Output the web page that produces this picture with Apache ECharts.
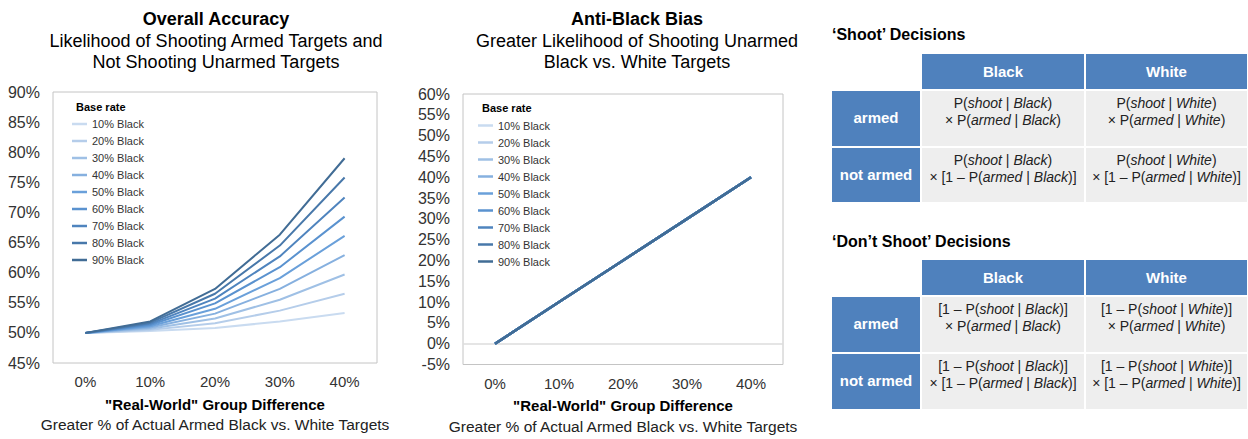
<!DOCTYPE html>
<html>
<head>
<meta charset="utf-8">
<script src="https://cdn.jsdelivr.net/npm/echarts@6/dist/echarts.min.js"></script>
<style>
html,body{margin:0;padding:0;background:#fff;}
#c{width:1248px;height:439px;}
</style>
</head>
<body>
<div id="c"></div>
<script>
// ---------- data ----------
const categories = ['0%', '10%', '20%', '30%', '40%'];
const baseRates = ['10% Black', '20% Black', '30% Black', '40% Black', '50% Black', '60% Black', '70% Black', '80% Black', '90% Black'];
const lineColors = ['#c9dbf0', '#b5cdea', '#9fc0e5', '#86b0df', '#6aa0da', '#5a92cf', '#4f84be', '#4878aa', '#416c95'];

// Overall accuracy (%) per base rate
const acc10 = [50, 50.3, 50.8, 51.9, 53.3];
const acc20 = [50, 50.5, 51.6, 53.7, 56.5];
const acc30 = [50, 50.7, 52.4, 55.5, 59.7];
const acc40 = [50, 50.9, 53.2, 57.3, 62.9];
const acc50 = [50, 51.1, 54.0, 59.1, 66.1];
const acc60 = [50, 51.3, 54.9, 60.9, 69.3];
const acc70 = [50, 51.5, 55.7, 62.7, 72.5];
const acc80 = [50, 51.7, 56.5, 64.5, 75.8];
const acc90 = [50, 51.9, 57.3, 66.3, 79.0];

// Anti-Black bias (%) – identical for every base rate
const bias10 = [0, 10, 20, 30, 40];
const bias20 = [0, 10, 20, 30, 40];
const bias30 = [0, 10, 20, 30, 40];
const bias40 = [0, 10, 20, 30, 40];
const bias50 = [0, 10, 20, 30, 40];
const bias60 = [0, 10, 20, 30, 40];
const bias70 = [0, 10, 20, 30, 40];
const bias80 = [0, 10, 20, 30, 40];
const bias90 = [0, 10, 20, 30, 40];

// Tables
const tableCols = ['Black', 'White'];
const tableRows = ['armed', 'not armed'];
const shootTitle = '\u2018Shoot\u2019 Decisions';
const dontShootTitle = '\u2018Don\u2019t Shoot\u2019 Decisions';

// ---------- build ----------
const FONT = '"Liberation Sans", Arial, Helvetica, sans-serif';
const accSeries = [acc10, acc20, acc30, acc40, acc50, acc60, acc70, acc80, acc90];
const biasSeries = [bias10, bias20, bias30, bias40, bias50, bias60, bias70, bias80, bias90];

const series = [];
accSeries.forEach((d, i) => {
  series.push({
    type: 'line', name: baseRates[i], xAxisIndex: 0, yAxisIndex: 0, data: d,
    showSymbol: false, symbol: 'none', color: lineColors[i],
    lineStyle: { width: 2, color: lineColors[i] }, z: 3 + i, animation: false, silent: true
  });
});
biasSeries.forEach((d, i) => {
  const s = {
    type: 'line', name: baseRates[i], xAxisIndex: 1, yAxisIndex: 1, data: d,
    showSymbol: false, symbol: 'none', color: lineColors[i],
    lineStyle: { width: 2.5, color: lineColors[i] }, z: 3 + i, animation: false, silent: true
  };
  if (i === 0) {
    s.markLine = {
      silent: true, symbol: ['none', 'none'], label: { show: false },
      lineStyle: { color: '#dcdcdc', type: 'solid', width: 1.5 },
      data: [{ yAxis: 0 }], animation: false
    };
  }
  series.push(s);
});

function axisName() {
  return '{a|"Real-World" Group Difference}\n{b|Greater % of Actual Armed Black vs. White Targets}';
}
const nameRich = {
  a: { fontFamily: FONT, fontSize: 15, fontWeight: 'bold', color: '#000', lineHeight: 20 },
  b: { fontFamily: FONT, fontSize: 15.5, color: '#222', lineHeight: 21 }
};

function xAxisCfg(gridIndex) {
  return {
    type: 'category', gridIndex, data: categories, boundaryGap: true,
    axisLine: { show: false }, axisTick: { show: false },
    axisLabel: { fontFamily: FONT, fontSize: 15, color: '#333', margin: 11 },
    name: axisName(), nameLocation: 'middle', nameGap: 31,
    nameTextStyle: { rich: nameRich }
  };
}
function yAxisCfg(gridIndex, min, max) {
  return {
    type: 'value', gridIndex, min, max, interval: 5,
    axisLine: { show: false }, axisTick: { show: false }, splitLine: { show: false },
    axisLabel: { fontFamily: FONT, fontSize: 16, color: '#333', margin: 13, formatter: '{value}%' }
  };
}

// ---------- graphics (titles + tables) ----------
const graphic = [];
function txt(x, y, text, opts) {
  graphic.push({
    type: 'text', x, y, silent: true,
    style: Object.assign({ text, fontFamily: FONT, fill: '#000', align: 'center', verticalAlign: 'middle' }, opts || {})
  });
}
// chart titles
txt(216, 19, 'Overall Accuracy', { fontSize: 18, fontWeight: 'bold' });
txt(216, 41, 'Likelihood of Shooting Armed Targets and', { fontSize: 18 });
txt(216, 62, 'Not Shooting Unarmed Targets', { fontSize: 18 });
txt(637, 19, 'Anti-Black Bias', { fontSize: 18, fontWeight: 'bold' });
txt(637, 41, 'Greater Likelihood of Shooting Unarmed', { fontSize: 18 });
txt(637, 62, 'Black vs. White Targets', { fontSize: 18 });
// legend headers
txt(76, 107, 'Base rate', { fontSize: 11, fontWeight: 'bold', align: 'left' });
txt(482, 108, 'Base rate', { fontSize: 11, fontWeight: 'bold', align: 'left' });

// tables
const BLUE = '#4f81bd', GREY = '#eeeeee';
const colX = [[832, 920], [922, 1084], [1086, 1247]];
const cellRich = {
  n: { fontFamily: FONT, fontSize: 14, color: '#222', lineHeight: 17 },
  i: { fontFamily: FONT, fontSize: 14, color: '#222', fontStyle: 'italic', lineHeight: 17 }
};
function pr(pre, a, g, post) {
  return '{n|' + pre + '}{i|' + a + '}{n| | }{i|' + g + '}{n|' + post + '}';
}
function rect(x0, x1, y0, y1, fill) {
  graphic.push({ type: 'rect', silent: true, shape: { x: x0, y: y0, width: x1 - x0, height: y1 - y0 }, style: { fill } });
}
function drawTable(title, titleY, rowsY, cellTexts) {
  txt(832, titleY, title, { fontSize: 16, fontWeight: 'bold', align: 'left' });
  // header
  const hy = rowsY[0];
  for (let c = 0; c < 2; c++) {
    const [x0, x1] = colX[c + 1];
    rect(x0, x1, hy[0], hy[1], BLUE);
    txt((x0 + x1) / 2, (hy[0] + hy[1]) / 2, tableCols[c], { fontSize: 15, fontWeight: 'bold', fill: '#fff' });
  }
  for (let r = 0; r < 2; r++) {
    const [y0, y1] = rowsY[r + 1];
    rect(colX[0][0], colX[0][1], y0, y1, BLUE);
    txt((colX[0][0] + colX[0][1]) / 2, (y0 + y1) / 2 - 1, tableRows[r], { fontSize: 15, fontWeight: 'bold', fill: '#fff' });
    for (let c = 0; c < 2; c++) {
      const [x0, x1] = colX[c + 1];
      rect(x0, x1, y0, y1, GREY);
      graphic.push({
        type: 'text', x: (x0 + x1) / 2, y: y0 + 3.5, silent: true,
        style: { text: cellTexts[r][c], rich: cellRich, align: 'center', verticalAlign: 'top', fontFamily: FONT, fontSize: 14, fill: '#222' }
      });
    }
  }
}
const shootCells = tableRows.map((row, r) => tableCols.map(g =>
  r === 0
    ? pr('P(', 'shoot', g, ')') + '\n' + pr('\u00d7 P(', 'armed', g, ')')
    : pr('P(', 'shoot', g, ')') + '\n' + pr('\u00d7 [1 \u2013 P(', 'armed', g, ')]')
));
const dontCells = tableRows.map((row, r) => tableCols.map(g =>
  r === 0
    ? pr('[1 \u2013 P(', 'shoot', g, ')]') + '\n' + pr('\u00d7 P(', 'armed', g, ')')
    : pr('[1 \u2013 P(', 'shoot', g, ')]') + '\n' + pr('\u00d7 [1 \u2013 P(', 'armed', g, ')]')
));
drawTable(shootTitle, 34, [[54, 89], [91, 146], [148, 202]], shootCells);
drawTable(dontShootTitle, 241, [[260, 295], [297, 352], [354, 409]], dontCells);

// ---------- chart ----------
const chart = echarts.init(document.getElementById('c'), null, { renderer: 'svg' });
const legendCommon = {
  orient: 'vertical', data: baseRates, icon: 'rect', itemWidth: 15, itemHeight: 2.5, itemGap: 3,
  padding: 0, selectedMode: false,
  textStyle: { fontFamily: FONT, fontSize: 11, color: '#333', lineHeight: 14 }
};
chart.setOption({
  animation: false,
  backgroundColor: '#fff',
  grid: [
    { left: 53, top: 92, width: 324, height: 271, show: true, borderColor: '#c4c4c4', borderWidth: 1, containLabel: false },
    { left: 463, top: 94, width: 320, height: 272, show: true, borderColor: '#c4c4c4', borderWidth: 1, containLabel: false }
  ],
  xAxis: [xAxisCfg(0), xAxisCfg(1)],
  yAxis: [yAxisCfg(0, 45, 90), yAxisCfg(1, -5, 60)],
  legend: [
    Object.assign({ left: 72, top: 117 }, legendCommon),
    Object.assign({ left: 478, top: 118.5 }, legendCommon)
  ],
  tooltip: { show: false },
  series,
  graphic
});
</script>
</body>
</html>
